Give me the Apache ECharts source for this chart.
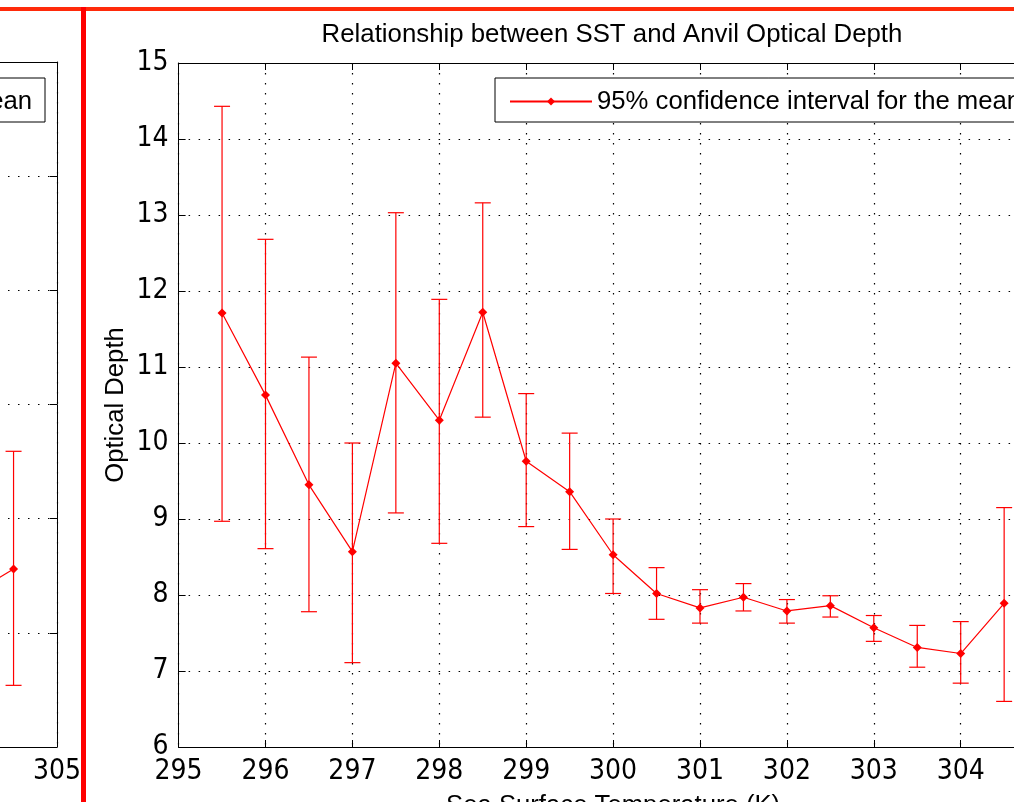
<!DOCTYPE html>
<html>
<head>
<meta charset="utf-8">
<script src="https://cdn.jsdelivr.net/npm/echarts@6/dist/echarts.min.js"></script>
<style>
html,body{margin:0;padding:0;background:#fff;overflow:hidden;width:1014px;height:802px;}
#chart{position:absolute;left:-830px;top:0;width:1900px;height:802px;}
</style>
</head>
<body>
<div id="chart"></div>
<script>
// ---- data ----
const titleText = 'Relationship between SST and Anvil Optical Depth';
const seriesName = '95% confidence interval for the mean';
const xName = 'Sea Surface Temperature (K)';
const yName = 'Optical Depth';

const sst   = [295.5, 296, 296.5, 297, 297.5, 298, 298.5, 299, 299.5, 300, 300.5, 301, 301.5, 302, 302.5, 303, 303.5, 304, 304.5];
const mean  = [11.71, 10.63, 9.45, 8.57, 11.05, 10.30, 11.72, 9.76, 9.36, 8.53, 8.02, 7.83, 7.97, 7.79, 7.86, 7.57, 7.31, 7.23, 7.89];
const lower = [8.97, 8.61, 7.78, 7.11, 9.08, 8.68, 10.34, 8.90, 8.60, 8.02, 7.68, 7.63, 7.79, 7.63, 7.71, 7.39, 7.05, 6.84, 6.60];
const upper = [14.43, 12.68, 11.13, 10.00, 13.03, 11.89, 13.16, 10.65, 10.13, 9.00, 8.36, 8.07, 8.15, 7.94, 7.99, 7.73, 7.60, 7.65, 9.15];

// partially visible neighbouring panel (left)
const leftSst   = [304, 304.5];
const leftMean  = [1.33, 1.56];
const leftBarX  = [304.5];
const leftLower = [0.54];
const leftUpper = [2.59];

const xMin = 295, xMax = 305, xStep = 1;
const yMin = 6, yMax = 15, yStep = 1;
const leftYMin = 0, leftYMax = 6, leftYStep = 1;

// ---- chart ----
// The chart canvas is wider than the window and shifted left, so the
// figure is cropped the same way as the reference screenshot.
const OFF = 830;
const W = 1900;
const RED = '#ff0000';
const tickFont = "'Liberation Sans Narrow','DejaVu Sans Condensed','Liberation Sans',sans-serif";
const textFont = "'Liberation Sans',Arial,sans-serif";

const chart = echarts.init(document.getElementById('chart'), null, {renderer: 'canvas'});

function errorBarRender(params, api) {
  const x = api.value(0), lo = api.value(1), hi = api.value(2);
  const pHi = api.coord([x, hi]);
  const pLo = api.coord([x, lo]);
  const hw = 8;
  const style = {stroke: RED, lineWidth: 1.2};
  return {
    type: 'group',
    children: [
      {type: 'line', shape: {x1: pHi[0], y1: pHi[1], x2: pLo[0], y2: pLo[1]}, style: style},
      {type: 'line', shape: {x1: pHi[0] - hw, y1: pHi[1], x2: pHi[0] + hw, y2: pHi[1]}, style: style},
      {type: 'line', shape: {x1: pLo[0] - hw, y1: pLo[1], x2: pLo[0] + hw, y2: pLo[1]}, style: style}
    ]
  };
}

const gridDots = {show: true, lineStyle: {color: '#000', width: 1.2, type: [1.5, 8.5]}};
const axisLine = {show: true, onZero: false, lineStyle: {color: '#000', width: 1}};
const tickIn = {show: true, inside: true, length: 7, lineStyle: {color: '#000', width: 1}};

const option = {
  animation: false,
  backgroundColor: '#fff',
  title: {
    text: titleText,
    left: 612 + OFF, top: 22, textAlign: 'center', padding: 0,
    textStyle: {fontFamily: textFont, fontSize: 25.8, fontWeight: 'normal', color: '#000'}
  },
  legend: [
    {
      data: [seriesName], left: 495 + OFF, top: 78,
      backgroundColor: '#fff', borderColor: '#000', borderWidth: 1,
      padding: [7, 20, 4, 14], itemWidth: 82, itemHeight: 10, itemGap: 0,
      textStyle: {fontFamily: textFont, fontSize: 25.7, color: '#000', lineHeight: 30, padding: [3, 0, 0, 0]}
    },
    {
      data: [seriesName], right: W - (45 + OFF), top: 78,
      backgroundColor: '#fff', borderColor: '#000', borderWidth: 1,
      padding: [7, 13, 4, 14], itemWidth: 82, itemHeight: 10, itemGap: 0,
      textStyle: {fontFamily: textFont, fontSize: 25.7, color: '#000', lineHeight: 30, padding: [3, 0, 0, 0]}
    }
  ],
  grid: [
    {left: 178.6 + OFF, right: W - (1047.6 + OFF), top: 63, bottom: 55, outerBoundsMode: 'none', containLabel: false},
    {left: 57 - 869 + OFF, right: W - (57 + OFF), top: 62, bottom: 55, outerBoundsMode: 'none', containLabel: false}
  ],
  xAxis: [
    {
      gridIndex: 0, type: 'value', min: xMin, max: xMax, interval: xStep,
      name: xName, nameLocation: 'middle', nameGap: 46,
      nameTextStyle: {fontFamily: textFont, fontSize: 25.7, color: '#000'},
      axisLine: axisLine, axisTick: tickIn, splitLine: gridDots,
      axisLabel: {fontFamily: tickFont, fontSize: 28, color: '#000', margin: 11, showMinLabel: true, showMaxLabel: true}
    },
    {
      gridIndex: 0, type: 'value', position: 'top', min: xMin, max: xMax, interval: xStep,
      axisLine: axisLine, axisTick: tickIn, splitLine: {show: false}, axisLabel: {show: false}
    },
    {
      gridIndex: 1, type: 'value', min: xMin, max: xMax, interval: xStep,
      axisLine: axisLine, axisTick: tickIn, splitLine: gridDots,
      axisLabel: {fontFamily: tickFont, fontSize: 28, color: '#000', margin: 11, showMaxLabel: true}
    },
    {
      gridIndex: 1, type: 'value', position: 'top', min: xMin, max: xMax, interval: xStep,
      axisLine: axisLine, axisTick: tickIn, splitLine: {show: false}, axisLabel: {show: false}
    }
  ],
  yAxis: [
    {
      gridIndex: 0, type: 'value', min: yMin, max: yMax, interval: yStep,
      name: yName, nameLocation: 'middle', nameGap: 50,
      nameTextStyle: {fontFamily: textFont, fontSize: 25.7, color: '#000'},
      axisLine: axisLine, axisTick: tickIn, splitLine: gridDots,
      axisLabel: {fontFamily: tickFont, fontSize: 28, color: '#000', margin: 10, showMinLabel: true, showMaxLabel: true}
    },
    {
      gridIndex: 1, type: 'value', position: 'right', min: leftYMin, max: leftYMax, interval: leftYStep,
      axisLine: axisLine, axisTick: tickIn, splitLine: gridDots, axisLabel: {show: false}
    }
  ],
  series: [
    {
      type: 'line', name: seriesName, xAxisIndex: 0, yAxisIndex: 0,
      data: sst.map((x, i) => [x, mean[i]]),
      symbol: 'diamond', symbolSize: 9, showSymbol: true,
      lineStyle: {color: RED, width: 1.2}, itemStyle: {color: RED}, z: 4
    },
    {
      type: 'custom', name: seriesName, xAxisIndex: 0, yAxisIndex: 0,
      renderItem: errorBarRender,
      data: sst.map((x, i) => [x, lower[i], upper[i]]),
      encode: {x: 0, y: [1, 2]}, clip: true, z: 3
    },
    {
      type: 'line', name: seriesName, xAxisIndex: 2, yAxisIndex: 1,
      data: leftSst.map((x, i) => [x, leftMean[i]]),
      symbol: 'diamond', symbolSize: 9, showSymbol: true,
      lineStyle: {color: RED, width: 1.2}, itemStyle: {color: RED}, z: 4
    },
    {
      type: 'custom', name: seriesName, xAxisIndex: 2, yAxisIndex: 1,
      renderItem: errorBarRender,
      data: leftBarX.map((x, i) => [x, leftLower[i], leftUpper[i]]),
      encode: {x: 0, y: [1, 2]}, clip: true, z: 3
    }
  ],
  graphic: [
    {type: 'rect', shape: {x: OFF, y: 7, width: 1014, height: 4}, style: {fill: '#ff2a0a'}, z: 100},
    {type: 'rect', shape: {x: 81 + OFF, y: 7, width: 5, height: 795}, style: {fill: RED}, z: 100}
  ]
};
chart.setOption(option);
</script>
</body>
</html>
